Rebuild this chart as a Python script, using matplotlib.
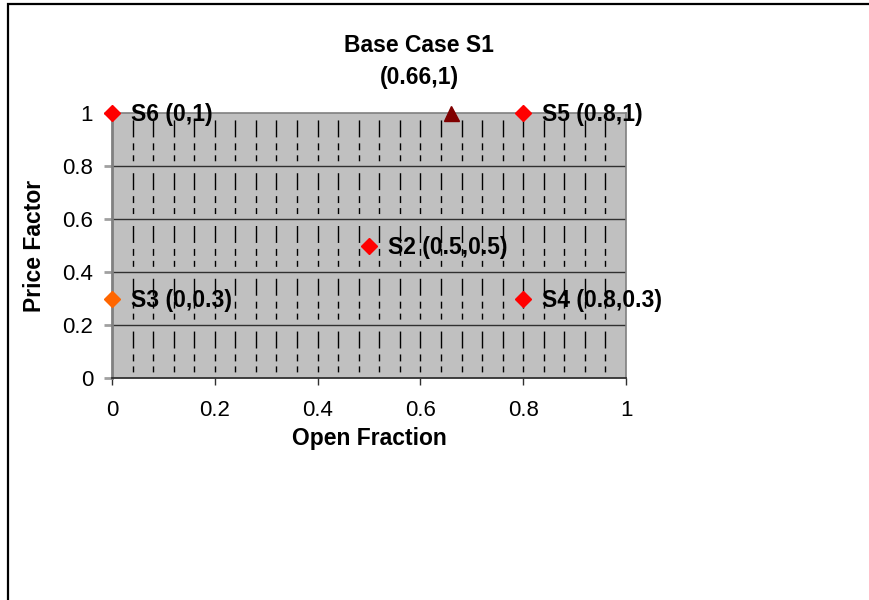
import matplotlib
matplotlib.use("Agg")
import matplotlib.pyplot as plt
from matplotlib.patches import Rectangle
import numpy as np

plt.rcParams['font.family'] = ['Liberation Sans', 'DejaVu Sans']

# Scenario points
scenario_names = ["S6", "S5", "S2", "S4", "S3"]
open_fraction = [0.0, 0.8, 0.5, 0.8, 0.0]
price_factor = [1.0, 1.0, 0.5, 0.3, 0.3]
scenario_colors = ["#FF0000", "#FF0000", "#FF0000", "#FF0000", "#FF6600"]

base_name = "Base Case S1"
base_open = 0.66
base_price = 1.0

x_ticks = [0, 0.2, 0.4, 0.6, 0.8, 1]
x_tick_labels = ["0", "0.2", "0.4", "0.6", "0.8", "1"]
y_ticks = [0, 0.2, 0.4, 0.6, 0.8, 1]
y_tick_labels = ["0", "0.2", "0.4", "0.6", "0.8", "1"]

W, H = 870, 600
fig = plt.figure(figsize=(W / 100, H / 100), dpi=100)

# outer chart frame
fig.patches.append(Rectangle((8 / W, -0.2), 1.5, 1.2 - 4 / H, transform=fig.transFigure,
                             fill=False, edgecolor="black", lw=1.6))

ax = fig.add_axes([112 / W, (H - 378) / H, 514 / W, 265 / H])
ax.set_facecolor("#C0C0C0")
ax.set_xlim(0, 1)
ax.set_ylim(0, 1)

# vertical dash-dot-dot grid every 0.04
grid_dash = (33.0, (12.2, 4.3, 5.0, 3.6, 4.3, 8.6))
for gx in np.arange(0.04, 1.0, 0.04):
    ax.plot([gx, gx], [1, 0], color="black", lw=1.0, ls=grid_dash, zorder=1)
# horizontal grid
for gy in [0.2, 0.4, 0.6, 0.8]:
    ax.axhline(gy, color="#303030", lw=1.0, zorder=1.5)

for side in ["top", "right"]:
    ax.spines[side].set_color("#808080")
    ax.spines[side].set_linewidth(1.2)
ax.spines["bottom"].set_color("#303030")
ax.spines["bottom"].set_linewidth(1.3)
ax.spines["left"].set_color("#808080")
ax.spines["left"].set_linestyle((0, (1, 1)))
ax.spines["left"].set_linewidth(2.0)

ax.set_xticks(x_ticks)
ax.set_xticklabels(x_tick_labels)
ax.set_yticks(y_ticks)
ax.set_yticklabels(y_tick_labels)
ax.tick_params(axis="x", direction="out", length=5, width=1, color="#303030",
               labelsize=16, pad=10.5)
ax.tick_params(axis="y", direction="out", length=5.5, width=2, color="#A0A0A0",
               labelsize=16, pad=8)

ax.set_xlabel("Open Fraction", fontsize=16.5, fontweight="bold")
ax.xaxis.set_label_coords(0.5, -0.185)
ax.set_ylabel("Price Factor", fontsize=16.5, fontweight="bold")
ax.yaxis.set_label_coords(-0.128, 0.5)

# scenario markers and labels
for name, xv, yv, c in zip(scenario_names, open_fraction, price_factor, scenario_colors):
    ax.plot(xv, yv, marker="D", ms=7.8, color=c, mec=c, ls="none",
            clip_on=False, zorder=5)
    ax.annotate(f"{name} ({xv:g},{yv:g})", (xv, yv), xytext=(13.5, -1.2),
                textcoords="offset points", ha="left", va="center",
                fontsize=16.5, fontweight="bold", zorder=6, annotation_clip=False)

# base case marker and label
ax.plot(base_open, base_price, marker="^", ms=10.8, color="#800000", mec="#800000",
        ls="none", clip_on=False, zorder=5)
ax.annotate(base_name, (base_open, base_price), xytext=(-23, 48.5),
            textcoords="offset points", ha="center", va="center",
            fontsize=16.5, fontweight="bold", annotation_clip=False)
ax.annotate(f"({base_open:g},{base_price:g})", (base_open, base_price), xytext=(-23, 25.6),
            textcoords="offset points", ha="center", va="center",
            fontsize=16.5, fontweight="bold", annotation_clip=False)

fig.savefig("out.png", dpi=100)
